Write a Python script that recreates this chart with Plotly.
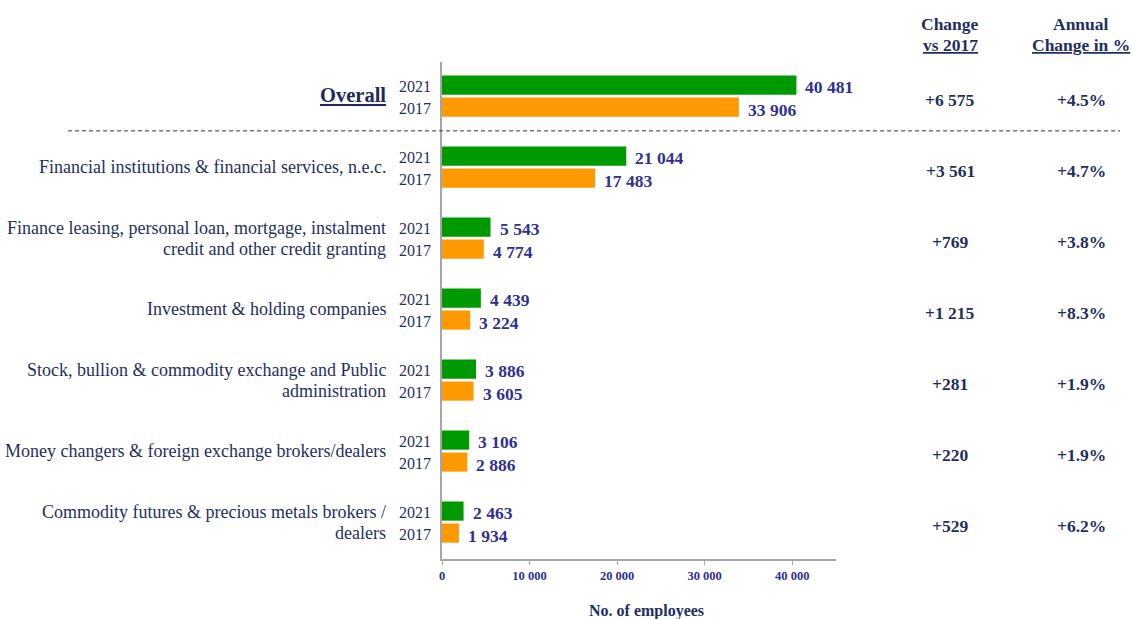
import plotly.graph_objects as go

# Sector labels (top row is the total)
categories = [
    "Overall",
    "Financial institutions & financial services, n.e.c.",
    "Finance leasing, personal loan, mortgage, instalment<br>credit and other credit granting",
    "Investment & holding companies",
    "Stock, bullion & commodity exchange and Public<br>administration",
    "Money changers & foreign exchange brokers/dealers",
    "Commodity futures & precious metals brokers /<br>dealers",
]
years = ["2021", "2017"]
employees_2021 = [40481, 21044, 5543, 4439, 3886, 3106, 2463]
employees_2017 = [33906, 17483, 4774, 3224, 3605, 2886, 1934]
annual_change_pct = [4.5, 4.7, 3.8, 8.3, 1.9, 1.9, 6.2]
x_ticks = [0, 10000, 20000, 30000, 40000]

GREEN = "#009900"
ORANGE = "#FF9900"
NAVY = "#1F2F5F"
VALUE_BLUE = "#2E3192"
SERIF = "Liberation Serif"

OFFSET = 0.155
BAR_W = 0.27

def fmt(n):
    return f"{n:,}".replace(",", " ")

group_pos = list(range(len(categories)))
y_2021 = [g - OFFSET for g in group_pos]
y_2017 = [g + OFFSET for g in group_pos]

fig = go.Figure()
fig.add_trace(go.Bar(x=employees_2021, y=y_2021, orientation="h", width=BAR_W,
                     marker=dict(color=GREEN, line=dict(width=0)), name="2021",
                     hoverinfo="x"))
fig.add_trace(go.Bar(x=employees_2017, y=y_2017, orientation="h", width=BAR_W,
                     marker=dict(color=ORANGE, line=dict(width=0)), name="2017",
                     hoverinfo="x"))

ann = []
for i, cat in enumerate(categories):
    g = group_pos[i]
    # value labels next to each bar
    ann.append(dict(x=employees_2021[i], y=y_2021[i], text=f"<b>{fmt(employees_2021[i])}</b>",
                    xanchor="left", yanchor="middle", xshift=7, yshift=-2, showarrow=False,
                    font=dict(family=SERIF, size=17.5, color=VALUE_BLUE)))
    ann.append(dict(x=employees_2017[i], y=y_2017[i], text=f"<b>{fmt(employees_2017[i])}</b>",
                    xanchor="left", yanchor="middle", xshift=7, yshift=-3, showarrow=False,
                    font=dict(family=SERIF, size=17.5, color=VALUE_BLUE)))
    # year labels
    for yy, yr in zip((y_2021[i], y_2017[i]), years):
        ann.append(dict(x=0, y=yy, text=yr, xanchor="right", yanchor="middle", xshift=-9,
                        yshift=-1, showarrow=False, font=dict(family=SERIF, size=16, color=NAVY)))
    # category label (one annotation per line for tight line spacing)
    if i == 0:
        ann.append(dict(x=0, y=g, text=f"<b>{cat}</b>", xanchor="right", yanchor="middle",
                        xshift=-54, yshift=1, showarrow=False,
                        font=dict(family=SERIF, size=20.5, color="#1F2A5C", lineposition="under")))
    else:
        lines = cat.split("<br>")
        n = len(lines)
        for j, line in enumerate(lines):
            shift = ((n - 1) / 2 - j) * 21
            ann.append(dict(x=0, y=g, text=line, xanchor="right", yanchor="middle",
                            xshift=-54, yshift=shift, showarrow=False,
                            font=dict(family=SERIF, size=18, color=NAVY)))
    # change columns
    diff = employees_2021[i] - employees_2017[i]
    ann.append(dict(xref="paper", x=1.29, y=g, text=f"<b>+{fmt(diff)}</b>", xanchor="center",
                    yanchor="middle", yshift=-4, showarrow=False,
                    font=dict(family=SERIF, size=17.5, color=NAVY)))
    ann.append(dict(xref="paper", x=1.623, y=g, text=f"<b>+{annual_change_pct[i]:.1f}%</b>",
                    xanchor="center", yanchor="middle", yshift=-4, showarrow=False,
                    font=dict(family=SERIF, size=17.5, color=NAVY)))

# column headers: plain first line, underlined second line
for xpos, top, bottom in ((1.29, "Change", "vs 2017"), (1.623, "Annual", "Change in %")):
    ann.append(dict(xref="paper", yref="paper", x=xpos, y=1.0, yshift=38,
                    text=f"<b>{top}</b>", xanchor="center", yanchor="middle", showarrow=False,
                    font=dict(family=SERIF, size=17.5, color=NAVY)))
    ann.append(dict(xref="paper", yref="paper", x=xpos, y=1.0, yshift=17,
                    text=f"<b>{bottom}</b>", xanchor="center", yanchor="middle", showarrow=False,
                    font=dict(family=SERIF, size=17.5, color=NAVY, lineposition="under")))

# x-axis title
ann.append(dict(xref="paper", yref="paper", x=0.52, y=0, yshift=-52,
                text="<b>No. of employees</b>", xanchor="center", yanchor="middle",
                showarrow=False, font=dict(family=SERIF, size=16, color=NAVY)))

fig.update_layout(
    width=1132, height=619,
    margin=dict(l=442, r=296, t=62, b=60),
    paper_bgcolor="white", plot_bgcolor="white",
    showlegend=False, barmode="overlay",
    annotations=ann,
    shapes=[dict(type="line", xref="paper", yref="y", x0=-0.949, x1=1.721, y0=0.49, y1=0.49,
                 line=dict(color="#333333", width=1, dash="4px,3px"))],
    xaxis=dict(range=[0, 45000], tickvals=x_ticks, ticktext=[fmt(t) for t in x_ticks],
               showgrid=False, zeroline=False, showline=True, linecolor="#A6A6A6", linewidth=1.5,
               ticks="outside", ticklen=4, tickcolor="#A6A6A6", ticklabelstandoff=0,
               tickfont=dict(family=SERIF, size=12.5, color=VALUE_BLUE, weight="bold")),
    yaxis=dict(range=[6.52, -0.48], showticklabels=False, showgrid=False, zeroline=False,
               showline=True, linecolor="#A6A6A6", linewidth=1.5, ticks=""),
)

fig.write_html("out.html")
